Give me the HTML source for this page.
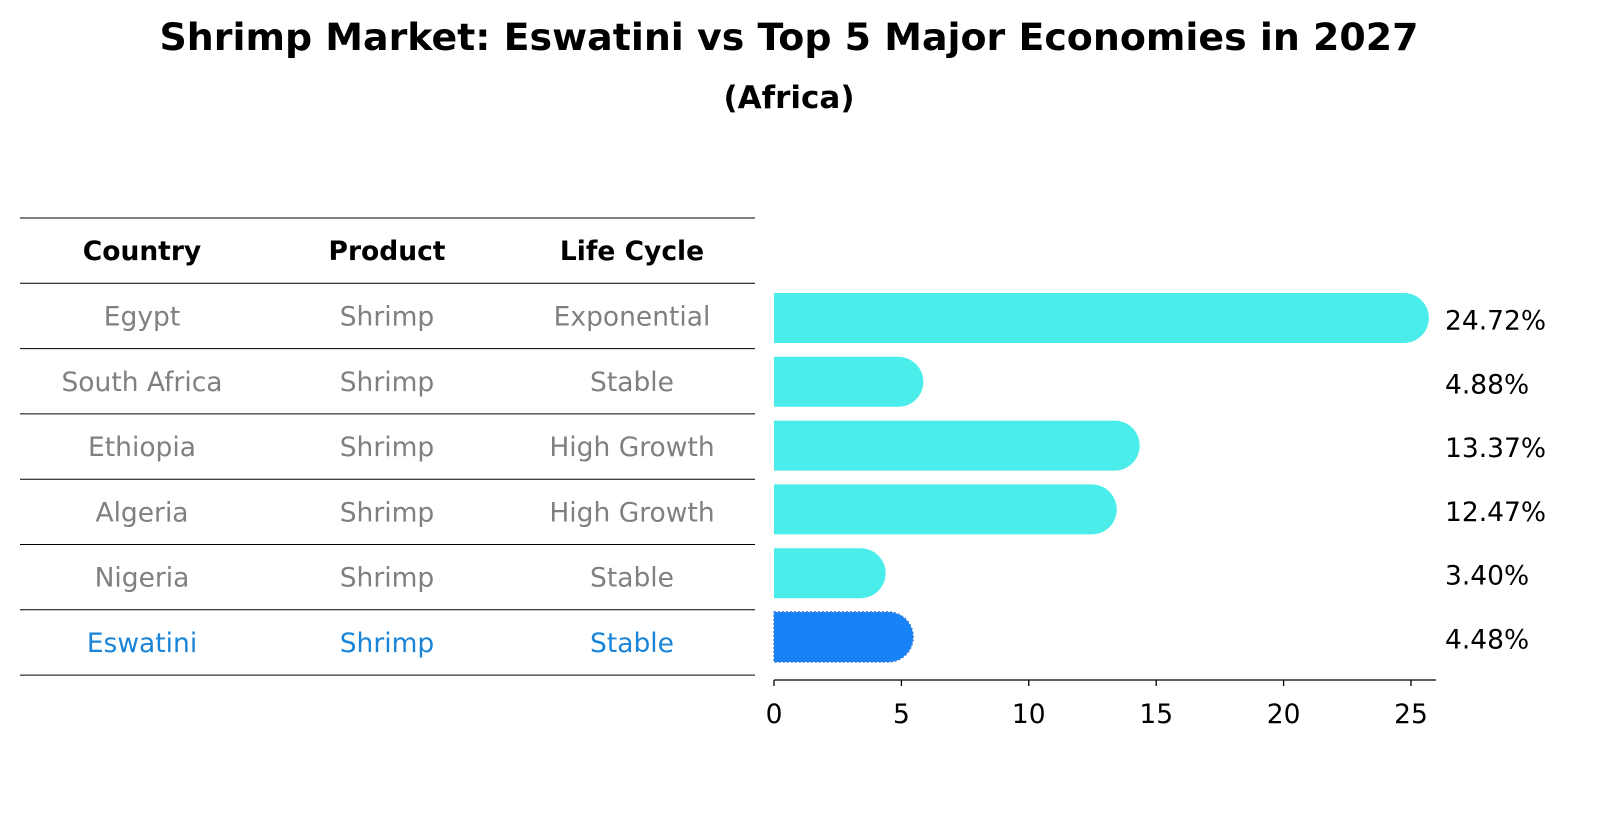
<!DOCTYPE html>
<html><head><meta charset="utf-8"><style>
html,body{margin:0;padding:0;background:#fff;}
svg{display:block;font-family:"DejaVu Sans","Liberation Sans",sans-serif;}
</style></head><body>
<svg id="chart" width="1604" height="823" viewBox="0 0 1604 823" xmlns="http://www.w3.org/2000/svg">
<text x="789" y="50" text-anchor="middle" font-size="37" font-weight="bold" textLength="1259" lengthAdjust="spacingAndGlyphs">Shrimp Market: Eswatini vs Top 5 Major Economies in 2027</text>
<text x="789" y="108" text-anchor="middle" font-size="31" font-weight="bold">(Africa)</text>
<g id="table"></g>
<g id="bars"></g>
</svg>
<script>
const countries = ["Egypt","South Africa","Ethiopia","Algeria","Nigeria","Eswatini"];
const products = ["Shrimp","Shrimp","Shrimp","Shrimp","Shrimp","Shrimp"];
const lifeCycles = ["Exponential","Stable","High Growth","High Growth","Stable","Stable"];
const shares = [24.72,4.88,13.37,12.47,3.40,4.48];
const xTicks = [0,5,10,15,20,25];
const highlight = "Eswatini";

const NS="http://www.w3.org/2000/svg";
function mk(tag,attrs,parent){const e=document.createElementNS(NS,tag);for(const k in attrs)e.setAttribute(k,attrs[k]);parent.appendChild(e);return e;}
const table=document.getElementById('table');
const bars=document.getElementById('bars');
const FS=26.5;

// table
const colX=[142,387,632];
const rowH=65.3, firstLine=218;
function hline(y,name){const l=mk('line',{x1:20,x2:755,y1:y,y2:y,stroke:'#000','stroke-width':1},table);

}
hline(firstLine,'table-top-line');
hline(firstLine+rowH,'table-header-line');
["Country","Product","Life Cycle"].forEach((h,i)=>{
 const t=mk('text',{x:colX[i],y:firstLine+rowH*0.5+FS*0.36,'text-anchor':'middle','font-size':FS,'font-weight':'bold'},table);
 t.textContent=h;
 
 
});
countries.forEach((c,r)=>{
 const cy=firstLine+rowH*(r+1.5);
 const col=c===highlight?'#1a85d8':'#808080';
 [c,products[r],lifeCycles[r]].forEach((v,i)=>{
  const t=mk('text',{x:colX[i],y:cy+FS*0.36,'text-anchor':'middle','font-size':FS,fill:col},table);
  t.textContent=v;
  
  
 });
 hline(firstLine+rowH*(r+2),'row-line-'+(r+1));
});

// bars
const x0=774, pxPer=25.48;
const xs=v=>x0+v*pxPer;
const barCY=r=>318+r*63.8;
const bh=50, rad=25;
shares.forEach((v,r)=>{
 const cy=barCY(r);
 const isH=countries[r]===highlight;
 const xe=xs(v);
 const d=`M${x0},${cy-bh/2} L${xe},${cy-bh/2} A${rad},${rad} 0 0 1 ${xe},${cy+bh/2} L${x0},${cy+bh/2} Z`;
 const p=mk('path',{d:d,fill:isH?'#1783f7':'#4bedea'},bars);
 if(isH){p.setAttribute('stroke','#3a7fd8');p.setAttribute('stroke-dasharray','2,2');p.setAttribute('stroke-width','1.5');}
 
 
 const t=mk('text',{x:1445,y:cy+FS*0.36+2,'font-size':FS},bars);
 t.textContent=v.toFixed(2)+'%';
 
 
});
const ax=mk('line',{x1:x0,x2:1436,y1:680,y2:680,stroke:'#000','stroke-width':1.3},bars);


xTicks.forEach(v=>{
 const tk=mk('line',{x1:xs(v),x2:xs(v),y1:680,y2:686,stroke:'#000','stroke-width':1.3},bars);
 
 
 const t=mk('text',{x:xs(v),y:723,'text-anchor':'middle','font-size':FS},bars);
 t.textContent=v;
 
 
});
</script>
</body></html>
